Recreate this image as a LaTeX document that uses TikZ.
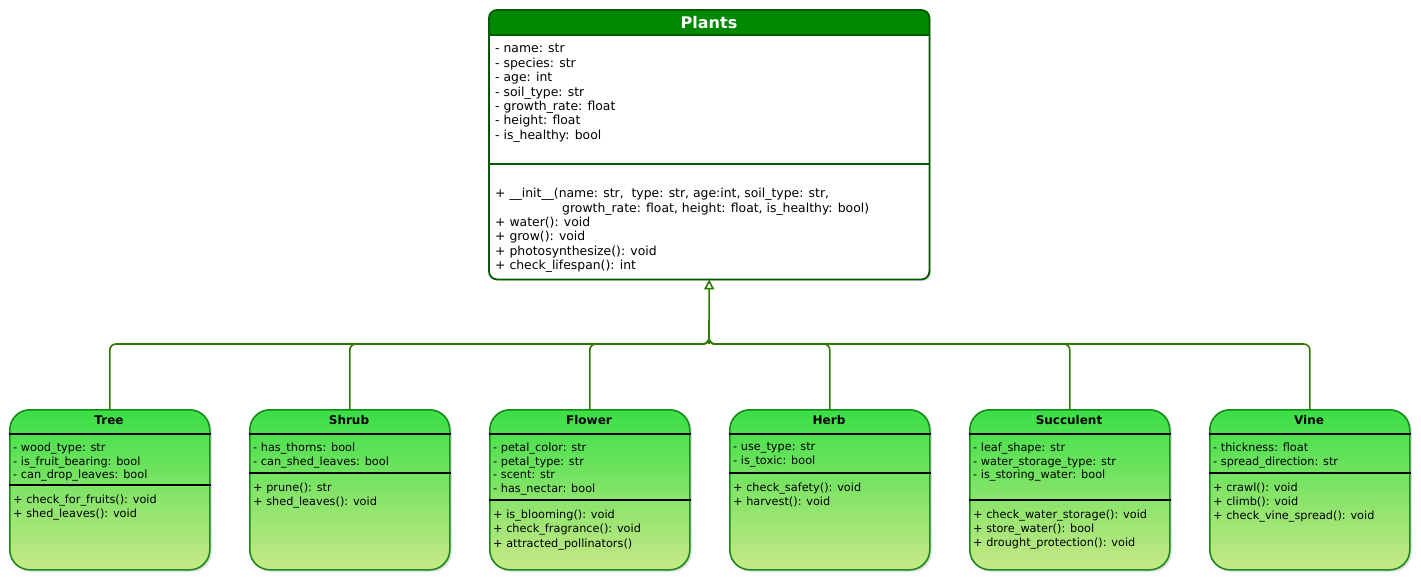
\documentclass[tikz,border=0pt]{standalone}
\usepackage{fontspec}
\setmainfont{DejaVu Sans}
\usetikzlibrary{positioning,arrows.meta,shadows}

\definecolor{plantgreen}{RGB}{0,136,0}
\definecolor{plantline}{RGB}{0,90,0}
\definecolor{kidtop}{RGB}{58,223,70}
\definecolor{kidbot}{RGB}{200,232,136}
\definecolor{kidline}{RGB}{24,140,24}
\definecolor{linkgreen}{RGB}{45,122,0}

\tikzset{
  member/.style={anchor=north west, align=left, inner sep=0pt, font=\fontsize{12.4}{14.4}\selectfont},
  kidmember/.style={member, font=\fontsize{11.3}{13.8}\selectfont},
  kid/.style={draw=kidline, line width=1.6pt, rounded corners=20pt, top color=kidtop, bottom color=kidbot,
    minimum width=200pt, minimum height=160pt, anchor=north west, inner sep=0pt,
    drop shadow={opacity=0.25, shadow xshift=2pt, shadow yshift=-2pt}},
  bar/.style={line width=1.6pt},
  link/.style={draw=linkgreen, line width=1.6pt, rounded corners=6pt},
}

\begin{document}
\begin{tikzpicture}[x=1pt,y=-1pt]
\useasboundingbox (0,0) rectangle (1421,582);
% base class
\node[fill=white, minimum width=440pt, minimum height=269pt, anchor=north west, inner sep=0pt, rounded corners=8pt,
  drop shadow={opacity=0.25, shadow xshift=2pt, shadow yshift=-2pt}] (plants) at (489,10) {};
\begin{scope}
  \clip[rounded corners=8pt] (plants.north west) rectangle (plants.south east);
  \fill[plantgreen] (plants.north west) rectangle (plants.east |- 0,35);
\end{scope}
\draw[plantline, line width=1.4pt] (plants.west |- 0,35) -- (plants.east |- 0,35);
\draw[plantline, line width=1.4pt] (plants.west |- 0,164) -- (plants.east |- 0,164);
\draw[plantline, line width=1.8pt, rounded corners=8pt] (plants.north west) rectangle (plants.south east);
\node[text=white, font=\bfseries\fontsize{16}{17}\selectfont] (ptitle) at (709,22.5) {Plants};
\node[member] (pattr) at (495,44) {- name: str\\- species: str\\- age: int\\- soil\_type: str\\- growth\_rate: float\\- height: float\\- is\_healthy: bool};
\node[member] (pmeth) at (495,188) {+ \_\_init\_\_(name: str,\ \ type: str, age:int, soil\_type: str,\\\hspace*{67pt}growth\_rate: float, height: float, is\_healthy: bool)\\+ water(): void\\+ grow(): void\\+ photosynthesize(): void\\+ check\_lifespan(): int};

\coordinate (hub) at (709,344);
\coordinate (stem) at (709,320);

% subclasses
\foreach \n/\px/\ttl/\sep/\attr/\meth in {
  tree/9/Tree/485/{- wood\_type: str\\- is\_fruit\_bearing: bool\\- can\_drop\_leaves: bool}/{+ check\_for\_fruits(): void\\+ shed\_leaves(): void},
  shrub/249/Shrub/473/{- has\_thorns: bool\\- can\_shed\_leaves: bool}/{+ prune(): str\\+ shed\_leaves(): void},
  flower/489/Flower/500/{- petal\_color: str\\- petal\_type: str\\- scent: str\\- has\_nectar: bool}/{+ is\_blooming(): void\\+ check\_fragrance(): void\\[1.5pt]+ attracted\_pollinators()},
  herb/729/Herb/473/{- use\_type: str\\- is\_toxic: bool}/{+ check\_safety(): void\\+ harvest(): void},
  succulent/969/Succulent/500/{- leaf\_shape: str\\- water\_storage\_type: str\\- is\_storing\_water: bool}/{+ check\_water\_storage(): void\\+ store\_water(): bool\\+ drought\_protection(): void},
  vine/1209/Vine/473/{- thickness: float\\- spread\_direction: str}/{+ crawl(): void\\+ climb(): void\\+ check\_vine\_spread(): void}}
{
  \node[kid] (\n) at (\px,409) {};
  \node[font=\bfseries\fontsize{12}{13}\selectfont] (\n-ttl) at (\px+100,420) {\ttl};
  \draw[bar] (\n.west |- 0,434) -- (\n.east |- 0,434);
  \draw[bar] (\n.west |- 0,\sep) -- (\n.east |- 0,\sep);
  \node[kidmember] (\n-attr) at (\px+4,442.5) {\attr};
  \node[kidmember] (\n-meth) at (\px+4,\sep+10) {\meth};
  \draw[link] (\n.north) |- (hub) -- (stem);
}
\draw[link, -{Triangle[open, length=10pt, width=10pt]}] (hub) -- (plants.south);
\end{tikzpicture}
\end{document}
